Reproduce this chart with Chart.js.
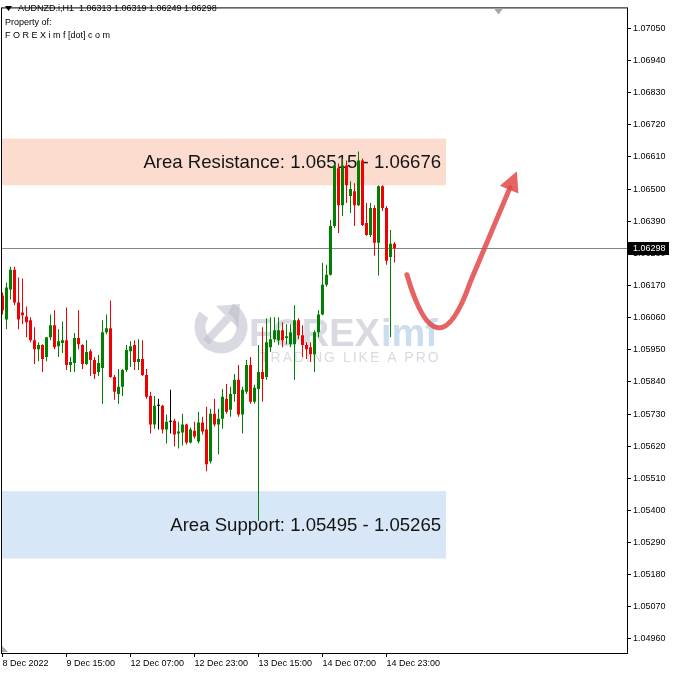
<!DOCTYPE html>
<html>
<head>
<meta charset="utf-8">
<script src="https://cdn.jsdelivr.net/npm/chart.js@4.4.1/dist/chart.umd.min.js"></script>
<style>
  html, body { margin: 0; padding: 0; background: #fff; }
  canvas { display: block; }
</style>
</head>
<body>
<canvas id="myChart" width="675" height="674"></canvas>
<script>
// AUDNZD.i H1 candles, bar 0 = 8 Dec 23:00 ... bar 98 = 15 Dec 01:00
const symbolLine = "AUDNZD.i,H1  1.06313 1.06319 1.06249 1.06298";
const ownerLines = ["Property of:", "F O R E X i m f [dot] c o m"];

const timeLabels = ["8 Dec 2022", "9 Dec 15:00", "12 Dec 07:00", "12 Dec 23:00", "13 Dec 15:00", "14 Dec 07:00", "14 Dec 23:00"];
const timeTickIdx = [0, 16, 32, 48, 64, 80, 96];

const priceTicks = [1.07050, 1.06940, 1.06830, 1.06720, 1.06610, 1.06500, 1.06390, 1.06280, 1.06170, 1.06060,
  1.05950, 1.05840, 1.05730, 1.05620, 1.05510, 1.05400, 1.05290, 1.05180, 1.05070, 1.04960];

const opens = [1.06136, 1.06054, 1.06156, 1.06224, 1.06112, 1.06078, 1.06064, 1.06051, 1.05983, 1.05952,
  1.05966, 1.05925, 1.05993, 1.06034, 1.05962, 1.05973, 1.05983, 1.05898, 1.05905, 1.05990,
  1.05966, 1.05901, 1.05945, 1.05915, 1.05874, 1.05888, 1.06010, 1.06024, 1.05857, 1.05799,
  1.05823, 1.05881, 1.05945, 1.05966, 1.05908, 1.05918, 1.05864, 1.05792, 1.05694, 1.05758,
  1.05758, 1.05677, 1.05704, 1.05707, 1.05663, 1.05667, 1.05694, 1.05633, 1.05673, 1.05636,
  1.05701, 1.05677, 1.05568, 1.05731, 1.05694, 1.05714, 1.05782, 1.05745, 1.05799, 1.05847,
  1.05728, 1.05806, 1.05898, 1.05772, 1.05816, 1.05874, 1.05857, 1.05959, 1.05986, 1.05983,
  1.06017, 1.05990, 1.05969, 1.05969, 1.06051, 1.06000, 1.05966, 1.05959, 1.05935, 1.06010,
  1.06071, 1.06173, 1.06207, 1.06374, 1.06571, 1.06445, 1.06581, 1.06476, 1.06493, 1.06445,
  1.06598, 1.06384, 1.06343, 1.06435, 1.06316, 1.06510, 1.06435, 1.06268, 1.06313];

const highs = [1.06146, 1.06180, 1.06234, 1.06234, 1.06197, 1.06194, 1.06098, 1.06061, 1.06027, 1.05976,
  1.05969, 1.05993, 1.06071, 1.06085, 1.06020, 1.06047, 1.06095, 1.05925, 1.06007, 1.06085,
  1.05969, 1.05983, 1.05952, 1.05925, 1.05932, 1.06051, 1.06071, 1.06119, 1.05864, 1.05884,
  1.05884, 1.05966, 1.05979, 1.05983, 1.05986, 1.05983, 1.05884, 1.05806, 1.05792, 1.05782,
  1.05762, 1.05728, 1.05813, 1.05714, 1.05704, 1.05731, 1.05697, 1.05684, 1.05704, 1.05738,
  1.05721, 1.05755, 1.05748, 1.05782, 1.05748, 1.05816, 1.05833, 1.05823, 1.05867, 1.05898,
  1.05823, 1.05915, 1.05925, 1.05830, 1.05966, 1.06027, 1.06058, 1.06061, 1.06061, 1.06061,
  1.06044, 1.06037, 1.06037, 1.06102, 1.06058, 1.06034, 1.05976, 1.05976, 1.06017, 1.06085,
  1.06248, 1.06241, 1.06394, 1.06588, 1.06588, 1.06605, 1.06598, 1.06527, 1.06520, 1.06629,
  1.06605, 1.06452, 1.06452, 1.06445, 1.06513, 1.06513, 1.06442, 1.06360, 1.06319];

const lows = [1.06071, 1.06020, 1.06122, 1.06102, 1.06020, 1.06037, 1.05993, 1.05976, 1.05901, 1.05911,
  1.05874, 1.05911, 1.05983, 1.05952, 1.05925, 1.05939, 1.05881, 1.05874, 1.05874, 1.05952,
  1.05884, 1.05898, 1.05860, 1.05850, 1.05860, 1.05765, 1.06003, 1.05854, 1.05779, 1.05765,
  1.05792, 1.05874, 1.05891, 1.05881, 1.05881, 1.05860, 1.05782, 1.05663, 1.05680, 1.05677,
  1.05663, 1.05629, 1.05663, 1.05619, 1.05612, 1.05622, 1.05626, 1.05629, 1.05646, 1.05629,
  1.05660, 1.05534, 1.05561, 1.05687, 1.05592, 1.05680, 1.05731, 1.05721, 1.05772, 1.05721,
  1.05663, 1.05799, 1.05765, 1.05765, 1.05364, 1.05772, 1.05847, 1.05942, 1.05976, 1.05966,
  1.05959, 1.05969, 1.05959, 1.05847, 1.05986, 1.05925, 1.05918, 1.05908, 1.05874, 1.05993,
  1.06068, 1.06166, 1.06204, 1.06367, 1.06350, 1.06408, 1.06452, 1.06418, 1.06374, 1.06442,
  1.06374, 1.06340, 1.06336, 1.06272, 1.06204, 1.06425, 1.06241, 1.05993, 1.06249];

const closes = [1.06085, 1.06163, 1.06224, 1.06112, 1.06054, 1.06068, 1.06044, 1.05983, 1.05952, 1.05966,
  1.05918, 1.05993, 1.06034, 1.05959, 1.05979, 1.05983, 1.05898, 1.05908, 1.05990, 1.05969,
  1.05901, 1.05942, 1.05915, 1.05867, 1.05905, 1.06010, 1.06024, 1.05857, 1.05806, 1.05823,
  1.05881, 1.05949, 1.05962, 1.05908, 1.05918, 1.05864, 1.05789, 1.05694, 1.05758, 1.05758,
  1.05677, 1.05704, 1.05704, 1.05660, 1.05670, 1.05694, 1.05633, 1.05677, 1.05653, 1.05701,
  1.05670, 1.05558, 1.05731, 1.05694, 1.05714, 1.05789, 1.05738, 1.05799, 1.05847, 1.05728,
  1.05813, 1.05898, 1.05772, 1.05820, 1.05874, 1.05850, 1.05976, 1.05986, 1.06017, 1.06017,
  1.05983, 1.05996, 1.06010, 1.06051, 1.06000, 1.05966, 1.05952, 1.05935, 1.06010, 1.06071,
  1.06173, 1.06207, 1.06374, 1.06581, 1.06445, 1.06581, 1.06513, 1.06500, 1.06445, 1.06598,
  1.06377, 1.06343, 1.06435, 1.06316, 1.06510, 1.06435, 1.06255, 1.06313, 1.06298];

const lastPrice = 1.06298;

// drawn zones (price top / bottom), right end as bar index
const zoneLabels = ["Area Resistance: 1.06515 - 1.06676", "Area Support: 1.05495 - 1.05265"];
const zoneTops = [1.06673, 1.05466];
const zoneBottoms = [1.06513, 1.05235];
const zoneColors = ["#fbdccf", "#d8e7f7"];
const zoneEndIdx = 110.9;

// hand-drawn forecast arrow: [bar index, price]
const arrowStart = [101.1, 1.06207];
const arrowCtrl = [108.6, 1.05857];
const arrowBend = [116.9, 1.06180];
const arrowTip = [128.6, 1.06561];

const UP = "#008000", DOWN = "#f00000", DOJI = "#000000";
function candleColor(i) {
  if (closes[i] > opens[i]) return UP;
  if (closes[i] < opens[i]) return DOWN;
  return DOJI;
}

const FONT = '"Liberation Sans", Arial, sans-serif';

const overlayPlugin = {
  id: 'overlay',
  beforeDatasetsDraw(chart) {
    const {ctx, chartArea: a, scales: {x, y}} = chart;
    ctx.save();
    ctx.beginPath();
    ctx.rect(a.left, a.top, a.right - a.left, a.bottom - a.top);
    ctx.clip();

    // zones
    const zx1 = x.getPixelForValue(zoneEndIdx);
    zoneLabels.forEach((lbl, k) => {
      const y0 = y.getPixelForValue(zoneTops[k]);
      const y1 = y.getPixelForValue(zoneBottoms[k]);
      ctx.fillStyle = zoneColors[k];
      ctx.fillRect(a.left, y0, zx1 - a.left, y1 - y0);
    });

    // watermark
    ctx.globalAlpha = 0.55;
    ctx.strokeStyle = "#b9bcc8";
    ctx.fillStyle = "#b9bcc8";
    ctx.lineWidth = 11;
    ctx.beginPath();
    ctx.arc(221, 327, 21, -0.35 * Math.PI, 1.2 * Math.PI);
    ctx.stroke();
    ctx.lineWidth = 8;
    ctx.beginPath();
    ctx.moveTo(206, 342); ctx.lineTo(228, 318);
    ctx.stroke();
    ctx.beginPath();
    ctx.moveTo(240, 304); ctx.lineTo(238, 328); ctx.lineTo(216, 306);
    ctx.closePath(); ctx.fill();
    ctx.font = 'bold 38px ' + FONT;
    ctx.textAlign = 'left';
    ctx.textBaseline = 'alphabetic';
    ctx.fillText("FOREX", 249, 346);
    const fw = ctx.measureText("FOREX").width;
    ctx.fillStyle = "#9fc3e2";
    ctx.fillText("imf", 249 + fw + 1, 346);
    ctx.fillStyle = "#b9bcc8";
    ctx.font = '14px ' + FONT;
    ctx.letterSpacing = '2px';
    ctx.fillText("TRADING LIKE A PRO", 260, 362);
    ctx.letterSpacing = '0px';
    ctx.globalAlpha = 1;

    // current price line
    const py = Math.round(y.getPixelForValue(lastPrice)) + 0.5;
    ctx.strokeStyle = "#7d8793";
    ctx.lineWidth = 1;
    ctx.beginPath();
    ctx.moveTo(a.left, py); ctx.lineTo(a.right, py);
    ctx.stroke();

    // zone labels
    ctx.fillStyle = "#141414";
    ctx.font = '18.6px ' + FONT;
    ctx.textAlign = 'right';
    ctx.textBaseline = 'middle';
    zoneLabels.forEach((lbl, k) => {
      const yc = (y.getPixelForValue(zoneTops[k]) + y.getPixelForValue(zoneBottoms[k])) / 2 + 1;
      ctx.fillText(lbl, zx1 - 5, yc);
    });
    ctx.restore();
  },
  afterDatasetsDraw(chart) {
    const {ctx, scales: {x, y}} = chart;
    const P = p => [x.getPixelForValue(p[0]), y.getPixelForValue(p[1])];
    const s = P(arrowStart), c = P(arrowCtrl), b = P(arrowBend), t = P(arrowTip);
    let dx = t[0] - b[0], dy = t[1] - b[1];
    const len = Math.hypot(dx, dy); dx /= len; dy /= len;
    const base = [t[0] - dx * 20, t[1] - dy * 20];
    ctx.save();
    ctx.globalAlpha = 0.85;
    ctx.strokeStyle = "#e04848";
    ctx.fillStyle = "#e04848";
    ctx.lineWidth = 5;
    ctx.lineCap = 'round';
    ctx.lineJoin = 'round';
    ctx.beginPath();
    ctx.moveTo(s[0], s[1]);
    ctx.quadraticCurveTo(c[0], c[1], b[0], b[1]);
    ctx.lineTo(base[0] + dx * 2, base[1] + dy * 2);
    ctx.stroke();
    ctx.beginPath();
    ctx.moveTo(t[0], t[1]);
    ctx.lineTo(base[0] - dy * 10, base[1] + dx * 10);
    ctx.lineTo(base[0] + dy * 10, base[1] - dx * 10);
    ctx.closePath();
    ctx.fill();
    ctx.restore();
  },
  afterDraw(chart) {
    const {ctx, chartArea: a, scales: {y}} = chart;
    ctx.save();
    // frame
    ctx.strokeStyle = "#000";
    ctx.lineWidth = 1;
    ctx.strokeRect(a.left + 0.5, a.top + 0.5, a.right - a.left, a.bottom - a.top);

    // last price tag
    const py = Math.round(y.getPixelForValue(lastPrice));
    ctx.fillStyle = "#000";
    ctx.fillRect(a.right + 1, py - 6, 41, 13);
    ctx.fillStyle = "#fff";
    ctx.font = '9px ' + FONT;
    ctx.textAlign = 'left';
    ctx.textBaseline = 'middle';
    ctx.fillText(lastPrice.toFixed(5), a.right + 6, py + 1);

    // header
    ctx.fillStyle = "#000";
    ctx.beginPath();
    ctx.moveTo(5, 6); ctx.lineTo(12, 6); ctx.lineTo(8.5, 11);
    ctx.closePath(); ctx.fill();
    ctx.font = '9px ' + FONT;
    ctx.fillText(symbolLine, 18, 9);
    ctx.fillText(ownerLines[0], 5, 23);
    ctx.fillText(ownerLines[1], 5, 36);

    // chart shift markers
    ctx.fillStyle = "#a8a8a8";
    ctx.beginPath();
    ctx.moveTo(494, a.top + 1); ctx.lineTo(503, a.top + 1); ctx.lineTo(498.5, a.top + 7);
    ctx.closePath(); ctx.fill();
    ctx.beginPath();
    ctx.moveTo(a.left + 1, a.bottom - 7); ctx.lineTo(a.left + 7, a.bottom - 1); ctx.lineTo(a.left + 1, a.bottom - 1);
    ctx.closePath(); ctx.fill();
    ctx.restore();
  }
};

const wickData = highs.map((h, i) => ({x: i, y: [lows[i], h]}));
const bodyData = opens.map((o, i) => ({x: i, y: [o, closes[i]]}));
const colors = opens.map((o, i) => candleColor(i));

const ctx = document.getElementById('myChart').getContext('2d');
const myChart = new Chart(ctx, {
  type: 'bar',
  data: {
    datasets: [{
      label: 'wick',
      data: wickData,
      backgroundColor: colors,
      barThickness: 1,
      grouped: false,
      inflateAmount: 0,
      borderWidth: 0
    }, {
      label: 'body',
      data: bodyData,
      backgroundColor: colors,
      barThickness: 3,
      grouped: false,
      inflateAmount: 0,
      borderWidth: 0,
      minBarLength: 1
    }]
  },
  options: {
    responsive: false,
    animation: false,
    devicePixelRatio: 1,
    layout: { padding: { top: 3, left: 1, right: 0, bottom: 0 } },
    plugins: { legend: { display: false }, tooltip: { enabled: false } },
    scales: {
      x: {
        type: 'linear',
        offset: false,
        min: -0.375,
        max: 156.125,
        afterBuildTicks: s => { s.ticks = timeTickIdx.map(v => ({value: v})); },
        afterFit: s => { s.height = 21; },
        ticks: {
          autoSkip: false, maxRotation: 0, align: 'start', padding: 1, color: '#000',
          font: { family: 'Liberation Sans', size: 9 },
          callback: (v, i) => timeLabels[i]
        },
        grid: { offset: false, drawOnChartArea: false, drawTicks: true, tickLength: 4, color: '#000' },
        border: { display: false }
      },
      y: {
        position: 'right',
        min: 1.04912,
        max: 1.07122,
        afterBuildTicks: s => { s.ticks = priceTicks.map(v => ({value: v})); },
        afterFit: s => { s.width = 48; },
        ticks: {
          autoSkip: false, padding: 2, color: '#000',
          font: { family: 'Liberation Sans', size: 9 },
          callback: v => v.toFixed(5)
        },
        grid: { drawOnChartArea: false, drawTicks: true, tickLength: 4, color: '#000' },
        border: { display: false }
      }
    }
  },
  plugins: [overlayPlugin]
});
</script>
</body>
</html>
